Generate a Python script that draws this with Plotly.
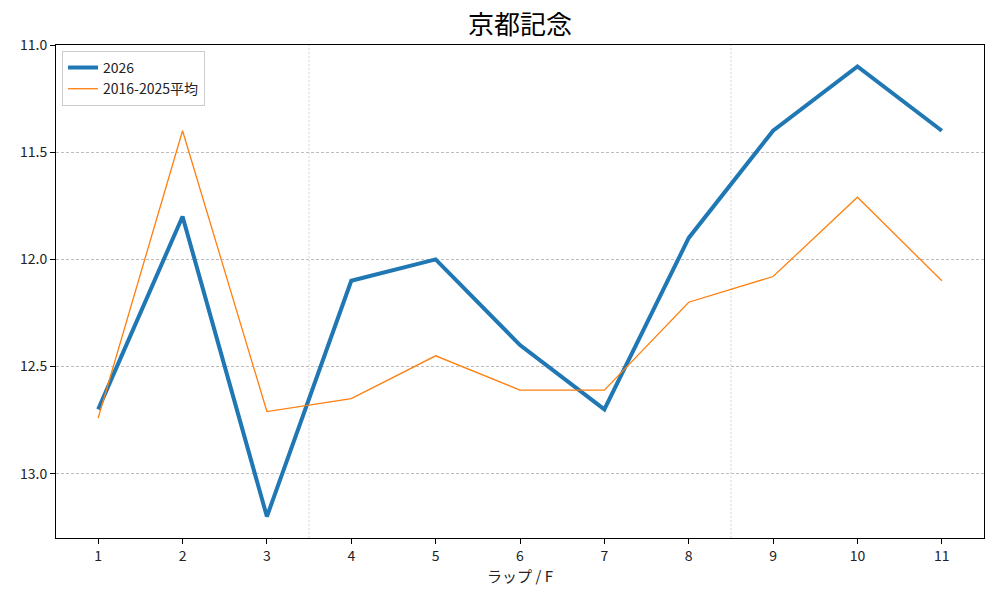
import plotly.graph_objects as go

laps = list(range(1, 12))
series_2026 = [12.70, 11.80, 13.20, 12.10, 12.00, 12.40, 12.70, 11.90, 11.40, 11.10, 11.40]
series_avg = [12.74, 11.40, 12.71, 12.65, 12.45, 12.61, 12.61, 12.20, 12.08, 11.71, 12.10]
section_breaks = [3.5, 8.5]
y_ticks = [11.0, 11.5, 12.0, 12.5, 13.0]

FONT = "Noto Sans CJK JP, Noto Sans, DejaVu Sans"

fig = go.Figure()
fig.add_trace(go.Scatter(x=laps, y=series_2026, mode="lines", name="2026",
                         line=dict(color="#1f77b4", width=4)))
fig.add_trace(go.Scatter(x=laps, y=series_avg, mode="lines", name="2016-2025平均",
                         line=dict(color="#ff7f0e", width=1.3)))

for xb in section_breaks:
    fig.add_shape(type="line", xref="x", yref="paper", x0=xb, x1=xb, y0=0, y1=1,
                  line=dict(color="#cccccc", width=0.8, dash="2px,2px"), layer="below")

fig.update_layout(
    width=1000, height=600,
    margin=dict(l=56, r=16, t=45, b=62),
    paper_bgcolor="white", plot_bgcolor="white",
    font=dict(family=FONT, size=14, color="#222222"),
    title=dict(text="京都記念", x=0.52, xanchor="center", y=0.959, yanchor="middle",
               xref="container", yref="container",
               font=dict(family=FONT, size=26, color="#000000")),
    showlegend=True,
    legend=dict(x=0.0065, y=0.988, xanchor="left", yanchor="top",
                bgcolor="rgba(255,255,255,0.85)", bordercolor="#cccccc", borderwidth=1,
                font=dict(size=14)),
    xaxis=dict(range=[0.5, 11.5], tickmode="array", tickvals=laps,
               ticktext=[str(v) for v in laps], showgrid=False,
               showline=True, linecolor="black", linewidth=1, mirror=True,
               ticks="outside", ticklen=5, tickcolor="black",
               title=dict(text="ラップ / F", font=dict(size=15), standoff=6),
               zeroline=False, automargin=False),
    yaxis=dict(range=[13.3, 11.0], tickmode="array", tickvals=y_ticks,
               ticktext=[f"{v:.1f}" for v in y_ticks],
               showgrid=True, gridcolor="#bdbdbd", gridwidth=0.6, griddash="3px,2px",
               showline=True, linecolor="black", linewidth=1, mirror=True,
               ticks="outside", ticklen=5, tickcolor="black", zeroline=False,
               automargin=False),
)

fig.write_html("out.html", config={"displayModeBar": False},
               post_script="document.body.style.margin='0';")
